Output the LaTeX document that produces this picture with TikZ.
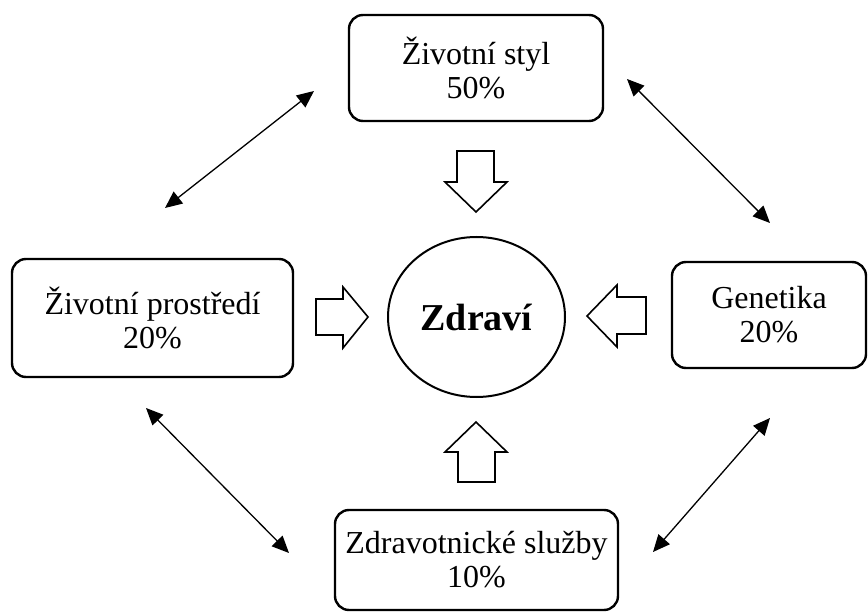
\documentclass[tikz,border=0pt]{standalone}
\usepackage{fontspec}
\setmainfont{Liberation Serif}
\usetikzlibrary{arrows.meta,shapes.geometric}

\tikzset{
  factor/.style={draw, line width=2.4pt, rounded corners=14pt, align=center, inner sep=0pt,
    font=\fontsize{32}{34}\selectfont},
  link/.style={line width=1.3pt, {Triangle[length=17pt,width=15pt]}-{Triangle[length=17pt,width=15pt]}},
  blockarrow/.style={draw, line width=1.6pt, line join=miter},
}

\begin{document}
\begin{tikzpicture}[x=1pt,y=-1pt]
  \useasboundingbox (0,0) rectangle (868,612);
  % factors
  \node[factor, minimum width=254pt, minimum height=106pt] (styl) at (476,68) {Životní styl\\50\%};
  \node[factor, minimum width=281pt, minimum height=118pt] (prostredi) at (152.5,318) {Životní prostředí\\20\%};
  \node[factor, minimum width=194pt, minimum height=106pt] (genetika) at (769,315) {Genetika\\20\%};
  \node[factor, minimum width=283pt, minimum height=100pt] (sluzby) at (476.5,560) {Zdravotnické služby\\10\%};
  \node[draw, ellipse, line width=2pt, minimum width=177pt, minimum height=160pt, inner sep=0pt,
    font=\fontsize{38}{44}\selectfont\bfseries] (zdravi) at (476.5,317) {Zdraví};
  % block arrows
  \draw[blockarrow] (457,151) -- (494,151) -- (494,182) -- (507,182) -- (476,212) -- (445,182) -- (457,182) -- cycle;
  \draw[blockarrow] (316,299) -- (343,299) -- (343,287) -- (368,317) -- (343,348) -- (343,335) -- (316,335) -- cycle;
  \draw[blockarrow] (646,297) -- (617,297) -- (617,285) -- (587,316) -- (617,347) -- (617,334) -- (646,334) -- cycle;
  \draw[blockarrow] (458,482) -- (458,452) -- (445,452) -- (476,422) -- (507,452) -- (495,452) -- (495,482) -- cycle;
  % links
  \coordinate (tl1) at (165,208);
  \coordinate (tl2) at (314,91);
  \coordinate (tr1) at (627,79);
  \coordinate (tr2) at (770,223);
  \coordinate (bl1) at (146,408);
  \coordinate (bl2) at (289,553);
  \coordinate (br1) at (770,418);
  \coordinate (br2) at (653,552);
  \draw[link] (tl1) -- (tl2);
  \draw[link] (tr1) -- (tr2);
  \draw[link] (bl1) -- (bl2);
  \draw[link] (br1) -- (br2);
\end{tikzpicture}
\end{document}
